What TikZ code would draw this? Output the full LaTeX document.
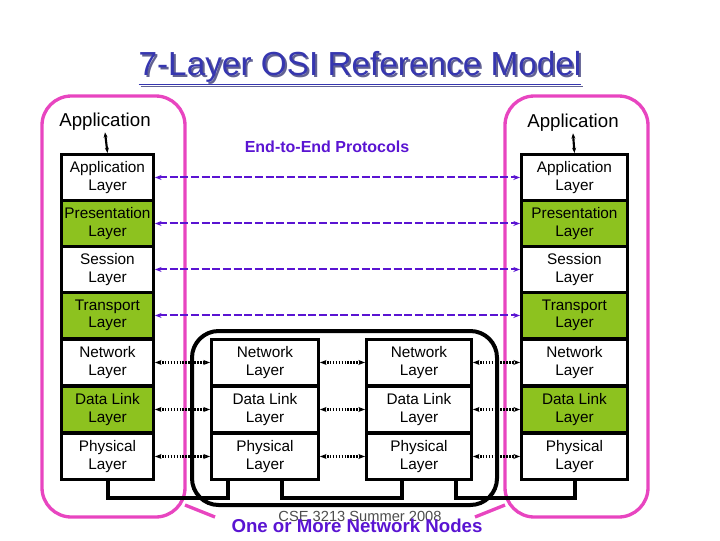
\documentclass[tikz,border=0pt]{standalone}
\usepackage{fontspec}
\setmainfont{Liberation Sans}
\usetikzlibrary{arrows.meta}
\definecolor{grn}{HTML}{8DC21F}
\definecolor{pur}{HTML}{5A14D2}
\definecolor{pnk}{HTML}{E845C0}
\definecolor{ttl}{HTML}{3636B0}
\begin{document}
\begin{tikzpicture}[x=0.75pt,y=-0.75pt,
  lay/.style={draw=black,line width=2.2pt,minimum width=#1,minimum height=46*0.75pt,inner sep=0pt,align=center,font=\fontsize{11.5}{13}\selectfont,anchor=north west},
  e2e/.style={pur,line width=1.5pt,dash pattern=on 6pt off 2pt,{Stealth[length=5pt]}-{Stealth[length=5pt]}},
  dot/.style={black,line width=2pt,dash pattern=on 1.2pt off 1pt,{Stealth[length=5pt]}-{Stealth[length=5pt]}},
  pink/.style={draw=pnk,line width=2.5pt,rounded corners=22pt},
  leg/.style={black,line width=2.5pt}]
\useasboundingbox (0,0) rectangle (720,540);
% title
\node[ttl!40!gray,font=\fontsize{25}{25}\selectfont] at (362,70) {\underline{7-Layer OSI Reference Model}};
\node (title) [ttl,font=\fontsize{25}{25}\selectfont] at (360,68) {\underline{7-Layer OSI Reference Model}};
% pink boxes
\draw[pink] (42,96) rectangle (185,517);
\draw[pink] (505,96) rectangle (648,517);
\draw[pnk,line width=2.5pt] (185,505) -- (215,517);
\draw[pnk,line width=2.5pt] (505,505) -- (475,517);
% black node box
\draw[black,line width=3pt,rounded corners=20pt] (192,331) rectangle (497,505);
% stacks
\foreach \side/\x/\w in {L/60/92,R/520/106}{
  \node[lay=\w*0.75pt] (\side1) at (\x,153) {Application\\Layer};
  \node[lay=\w*0.75pt,fill=grn] (\side2) at (\x,199) {Presentation\\Layer};
  \node[lay=\w*0.75pt] (\side3) at (\x,245) {Session\\Layer};
  \node[lay=\w*0.75pt,fill=grn] (\side4) at (\x,291) {Transport\\Layer};
  \node[lay=\w*0.75pt,fill=white] (\side5) at (\x,338) {Network\\Layer};
  \node[lay=\w*0.75pt,fill=grn] (\side6) at (\x,385) {Data Link\\Layer};
  \node[lay=\w*0.75pt,fill=white] (\side7) at (\x,432) {Physical\\Layer};
}
\foreach \side/\x/\w in {A/210/107,B/365/105}{
  \node[lay=\w*0.75pt,fill=white] (\side5) at (\x,338) {Network\\Layer};
  \node[lay=\w*0.75pt,fill=white] (\side6) at (\x,385) {Data Link\\Layer};
  \node[lay=\w*0.75pt,fill=white] (\side7) at (\x,432) {Physical\\Layer};
}
% application labels
\node (appL) [inner sep=1pt,font=\fontsize{14}{14}\selectfont] at (105,122) {Application};
\node (appR) [inner sep=1pt,font=\fontsize{14}{14}\selectfont] at (573,123) {Application};
\draw[line width=1.6pt,{Stealth[length=4pt]}-{Stealth[length=4pt]}] (appL.south) -- (L1.north);
\draw[line width=1.6pt,{Stealth[length=4pt]}-{Stealth[length=4pt]}] (appR.south) -- (R1.north);
\node (e2e) [pur,font=\bfseries\fontsize{12}{12}\selectfont] at (327,147) {End-to-End Protocols};
% end-to-end arrows
\foreach \i in {1,2,3,4}{\draw[e2e] (L\i.east) -- (R\i.west);}
% hop arrows
\foreach \i in {5,6,7}{
  \draw[dot] (L\i.east) -- (A\i.west);
  \draw[dot] (A\i.east) -- (B\i.west);
  \draw[dot] (B\i.east) -- (R\i.west);
}
% physical links
\draw[leg] (108,481) |- (228,498) -- (228,481);
\draw[leg] (282,481) |- (402,498) -- (402,481);
\draw[leg] (456,481) |- (575,498) -- (575,481);
% bottom texts
\node (foot) [black!70,font=\fontsize{11}{11}\selectfont] at (360,516) {CSE 3213 Summer 2008};
\node (nodes) [pur,font=\bfseries\fontsize{14}{14}\selectfont] at (357,526) {One or More Network Nodes};
\end{tikzpicture}
\end{document}
